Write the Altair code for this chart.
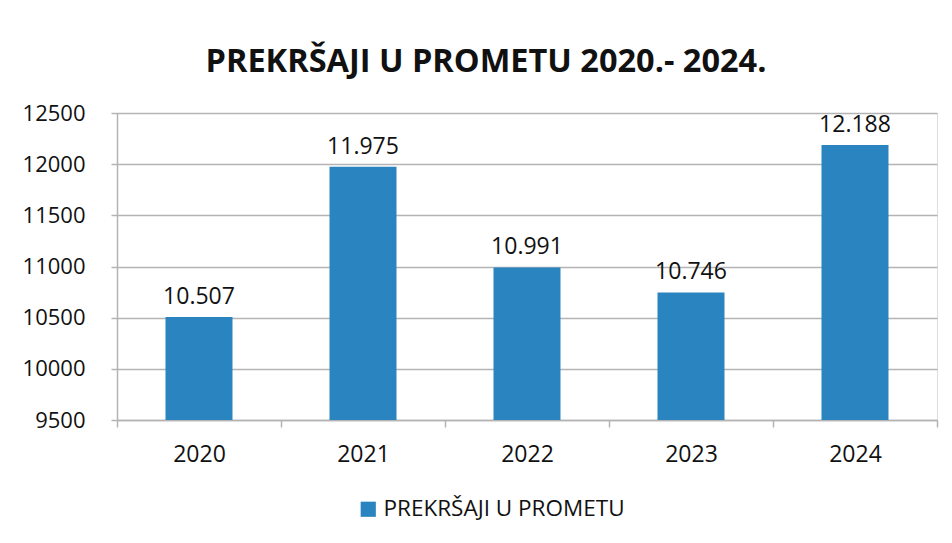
import altair as alt
import pandas as pd

years = ["2020", "2021", "2022", "2023", "2024"]
values = [10507, 11975, 10991, 10746, 12188]
series = ["PREKRŠAJI U PROMETU"] * 5
y_ticks = [9500, 10000, 10500, 11000, 11500, 12000, 12500]

df = pd.DataFrame({"year": years, "value": values, "series": series})

FONT = "Open Sans"
BLUE = "#2a84bf"
GRID = "#b4b4b4"

x = alt.X("year:N", title=None,
          scale=alt.Scale(paddingInner=0, paddingOuter=0),
          axis=alt.Axis(labelAngle=0, labelFontSize=23, labelFont=FONT, labelColor="#111",
                        labelPadding=16, tickBand="extent", tickSize=7, tickColor=GRID,
                        domainColor=GRID, domainWidth=1.5, tickWidth=1.5))
y = alt.Y("value:Q", title=None,
          scale=alt.Scale(domain=[y_ticks[0], y_ticks[-1]], zero=False, nice=False),
          axis=alt.Axis(values=y_ticks, format="d", labelFontSize=22, labelFont=FONT,
                        labelColor="#111", labelPadding=26, tickSize=6, tickColor=GRID,
                        domainColor=GRID, domainWidth=1.5, tickWidth=1.5,
                        gridColor=GRID, gridWidth=1.5))

bars = alt.Chart(df).mark_bar(size=67, clip=True).encode(
    x=x, y=y, y2=alt.datum(y_ticks[0]),
    color=alt.Color("series:N", title=None,
                    scale=alt.Scale(range=[BLUE]),
                    legend=alt.Legend(orient="none", legendX=240, legendY=385,
                                      symbolType="square", symbolSize=230,
                                      symbolStrokeWidth=0, labelLimit=0,
                                      labelFontSize=22.5, labelFont=FONT, labelColor="#111",
                                      direction="horizontal")),
)

labels = alt.Chart(df).transform_calculate(
    lab="replace(format(datum.value, ','), ',', '.')"
).mark_text(baseline="bottom", dy=-8, fontSize=23, font=FONT, color="#111").encode(
    x="year:N", y="value:Q", text="lab:N"
)

chart = alt.layer(bars, labels).properties(
    width=820, height=307,
    title=alt.TitleParams("PREKRŠAJI U PROMETU 2020.- 2024.", fontSize=32.5, font=FONT,
                          fontWeight="bold", color="#111", anchor="middle", dx=-41, offset=24),
    autosize=alt.AutoSizeParams(type="none"),
    padding={"left": 109, "top": 105, "right": 7, "bottom": 115},
).configure_view(stroke=None).configure(background="white")

chart.save("out.html", embed_options={"renderer": "svg", "actions": False})
